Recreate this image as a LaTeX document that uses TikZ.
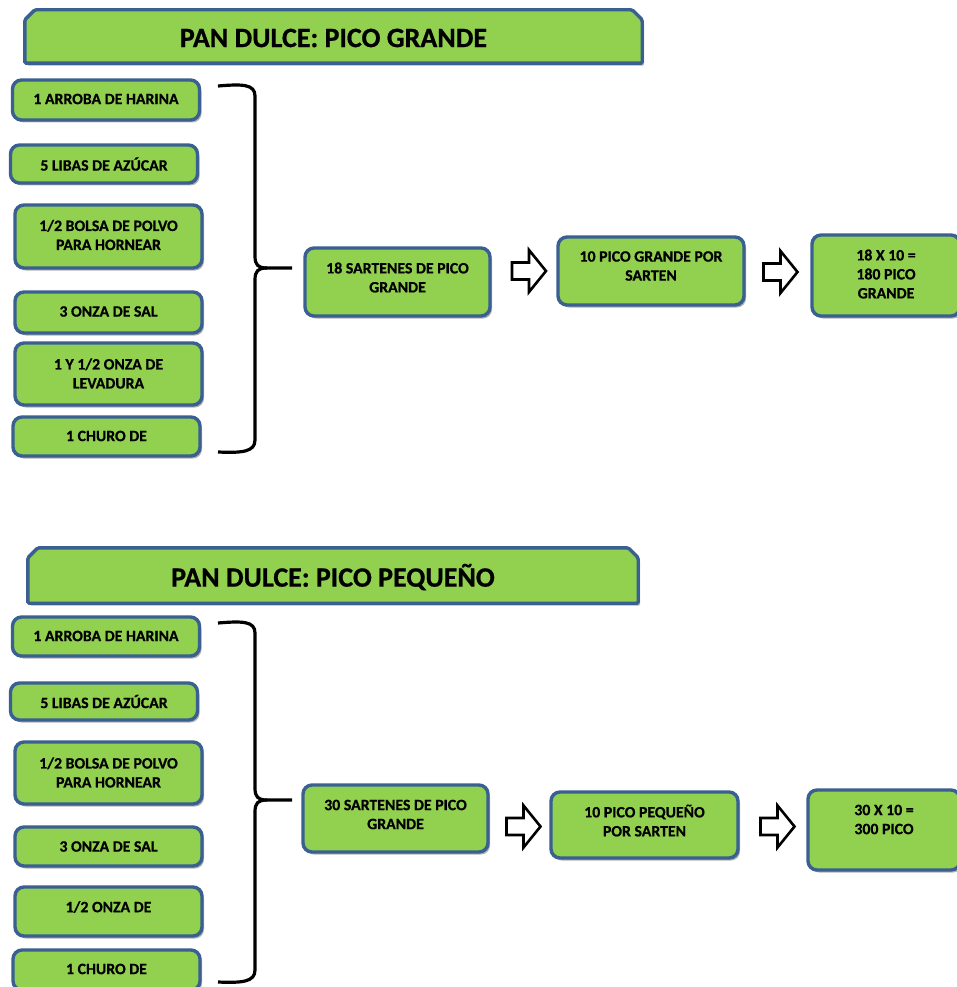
\documentclass[tikz,border=0pt]{standalone}
\usepackage{fontspec}
\setmainfont{Carlito}
\newfontfamily\heavyfont{Carlito}[BoldFeatures={FakeBold=0.7}]
\usetikzlibrary{shadows}
\definecolor{boxgreen}{RGB}{146,208,80}
\definecolor{boxblue}{RGB}{58,95,145}
\tikzset{
  rbox/.style={rounded corners=9pt, draw=boxblue, fill=boxgreen, line width=3.4pt, inner sep=0pt,
    drop shadow={shadow xshift=2pt, shadow yshift=-2.5pt, opacity=0.3, fill=black}},
  titlebox/.style={draw=boxblue, fill=boxgreen, line width=3.4pt, rounded corners=1.5pt,
    drop shadow={shadow xshift=2pt, shadow yshift=-2.5pt, opacity=0.3, fill=black}},
  titleanchor/.style={inner sep=0pt},
  txt/.style={font=\heavyfont\fontsize{15.8}{19}\selectfont\bfseries, align=center, inner sep=0pt, text=black},
  ttxt/.style={font=\heavyfont\fontsize{28}{32}\selectfont\bfseries, inner sep=0pt, text=black},
  barrow/.style={draw=black, fill=white, line width=2.6pt, line join=miter},
  bracestyle/.style={draw=black, line width=3.2pt}
}
\newcommand{\rboxnode}[7]{%
  \node[rbox, minimum width=#4pt, minimum height=#5pt] (#1) at (#2,#3) {};
  \node[txt] (#1-t) at ([yshift=#6pt]#1.center) {#7};}
\newcommand{\titlenode}[6]{%
  \node[titleanchor, minimum width=#4pt, minimum height=#5pt] (#1) at (#2,#3) {};
  \path[titlebox] (#1.south west) -- ([yshift=-10pt]#1.north west) -- ([xshift=10pt]#1.north west)
    -- ([xshift=-10pt]#1.north east) -- ([yshift=-10pt]#1.north east) -- (#1.south east) -- cycle;
  \node[ttxt] (#1-t) at ([yshift=-1.5pt]#1.center) {#6};}
\newcommand{\blockarrow}[3]{%
  \coordinate (#1) at (#2,#3);
  \draw[barrow] ([shift={(-17,-8.5)}]#1) -- ([shift={(0,-8.5)}]#1) -- ([shift={(0,-21)}]#1)
    -- ([shift={(17,0)}]#1) -- ([shift={(0,21)}]#1) -- ([shift={(0,8.5)}]#1)
    -- ([shift={(-17,8.5)}]#1) -- cycle;}
\begin{document}
\begin{tikzpicture}[x=1pt,y=-1pt]
\useasboundingbox (0,0) rectangle (957,987);

% ---------- top section ----------
\titlenode{title1}{333.5}{36.5}{617}{53}{PAN DULCE: PICO GRANDE}

\rboxnode{t1a}{106}{100}{187}{40}{1}{1 ARROBA DE HARINA}
\rboxnode{t1b}{104}{164}{187}{38}{0}{5 LIBAS DE AZÚCAR}
\rboxnode{t1c}{108.5}{236.5}{187}{63}{1.5}{1/2 BOLSA DE POLVO\\PARA HORNEAR}
\rboxnode{t1d}{108.5}{312.5}{187}{41}{1}{3 ONZA DE SAL}
\rboxnode{t1e}{108.5}{374}{187}{62}{0.5}{1 Y 1/2 ONZA DE\\LEVADURA}
\rboxnode{t1f}{106.5}{436.5}{187}{39}{0.5}{1 CHURO DE}

\coordinate (br1top) at (218,86);
\coordinate (br1tip) at (292,268);
\coordinate (br1bot) at (218,452);
\draw[bracestyle] (br1top) .. controls (242,84) and (255,84) .. (255,96) -- (255,256)
  .. controls (255,265) and (258,268) .. (267,268) -- (br1tip);
\draw[bracestyle] (267,268) .. controls (258,268) and (255,271) .. (255,280) -- (255,440)
  .. controls (255,452) and (242,453) .. (br1bot);

\rboxnode{c1}{397.5}{282}{185}{68}{4.5}{18 SARTENES DE PICO\\GRANDE}
\blockarrow{a1}{529}{271}
\rboxnode{b1}{651}{271}{186}{68}{5}{10 PICO GRANDE POR\\SARTEN}
\blockarrow{a2}{780.5}{272}
\rboxnode{r1}{886}{275.5}{148}{81}{1.5}{18 X 10 =\\180 PICO\\GRANDE}

% ---------- bottom section ----------
\titlenode{title2}{333}{575.5}{610}{55}{PAN DULCE: PICO PEQUEÑO}

\rboxnode{u1}{106}{636.5}{187}{39}{0.5}{1 ARROBA DE HARINA}
\rboxnode{u2}{104}{701.5}{187}{37}{0}{5 LIBAS DE AZÚCAR}
\rboxnode{u3}{108.5}{773}{187}{62}{0.5}{1/2 BOLSA DE POLVO\\PARA HORNEAR}
\rboxnode{u4}{108.5}{846.5}{187}{39}{0}{3 ONZA DE SAL}
\rboxnode{u5}{108.5}{911.5}{187}{49}{4.5}{1/2 ONZA DE}
\rboxnode{u6}{106.5}{970}{187}{40}{1}{1 CHURO DE}

\coordinate (br2top) at (218,623);
\coordinate (br2tip) at (292,800);
\coordinate (br2bot) at (218,982);
\draw[bracestyle] (br2top) .. controls (242,621) and (255,621) .. (255,633) -- (255,788)
  .. controls (255,797) and (258,800) .. (267,800) -- (br2tip);
\draw[bracestyle] (267,800) .. controls (258,800) and (255,803) .. (255,812) -- (255,970)
  .. controls (255,982) and (242,983) .. (br2bot);

\rboxnode{c2}{395.5}{818.5}{185}{67}{4}{30 SARTENES DE PICO\\GRANDE}
\blockarrow{a3}{523.5}{826.5}
\rboxnode{b2}{644.5}{825}{187}{66}{4.5}{10 PICO PEQUEÑO\\POR SARTEN}
\blockarrow{a4}{777.5}{826.5}
\rboxnode{r2}{884}{830}{152}{80}{10.5}{30 X 10 =\\300 PICO}
\end{tikzpicture}
\end{document}
